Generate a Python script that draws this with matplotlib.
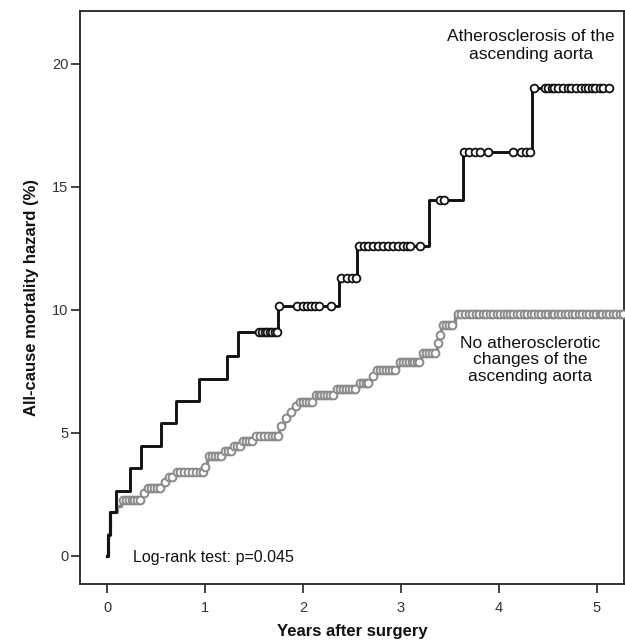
import numpy as np
import matplotlib
matplotlib.use("Agg")
import matplotlib.pyplot as plt

plt.rcParams['font.family'] = ['Liberation Sans', 'DejaVu Sans']

# ---- Data ----
# Atherosclerosis of the ascending aorta: event times (years) and cumulative hazard (%)
ath_times = [0.0, 0.005, 0.03, 0.09, 0.23, 0.345, 0.555, 0.70, 0.943, 1.223, 1.334, 1.747, 2.37, 2.555, 3.29, 3.64, 4.34]
ath_values = [0.0, 0.87, 1.78, 2.66, 3.56, 4.46, 5.39, 6.31, 7.2, 8.14, 9.1, 10.15, 11.31, 12.6, 14.47, 16.43, 19.01]
ath_censored = [1.55, 1.58, 1.61, 1.63, 1.66, 1.69, 1.72, 1.74,
                1.76, 1.94, 2.0, 2.04, 2.08, 2.12, 2.16, 2.29,
                2.39, 2.45, 2.50, 2.545,
                2.57, 2.62, 2.67, 2.72, 2.77, 2.82, 2.87, 2.92, 2.97, 3.02, 3.06, 3.09, 3.20,
                3.40, 3.44,
                3.645, 3.70, 3.76, 3.81, 3.89, 4.15, 4.23, 4.28, 4.32,
                4.36, 4.47, 4.50, 4.54, 4.57, 4.61, 4.66, 4.71, 4.74, 4.79, 4.84, 4.88,
                4.91, 4.95, 4.98, 5.03, 5.07, 5.13]

# No atherosclerotic changes of the ascending aorta
no_times = [0.0, 0.005, 0.03, 0.10, 0.14, 0.36, 0.40, 0.57, 0.61, 0.69, 0.99, 1.02, 1.19, 1.28, 1.37,
            1.50, 1.76, 1.81, 1.86, 1.91, 1.95, 2.11, 2.33, 2.56, 2.70, 2.74, 2.97, 3.21, 3.37,
            3.39, 3.41, 3.55]
no_values = [0.0, 0.9, 1.8, 2.05, 2.28, 2.54, 2.76, 3.0, 3.22, 3.43, 3.63, 4.05, 4.25, 4.48, 4.68,
             4.88, 5.3, 5.6, 5.87, 6.1, 6.27, 6.54, 6.78, 7.02, 7.3, 7.56, 7.87, 8.24, 8.65,
             8.98, 9.39, 9.84]
no_censored = [0.16, 0.19, 0.22, 0.25, 0.28, 0.31, 0.34, 0.38,
               0.42, 0.45, 0.48, 0.51, 0.54, 0.59, 0.63, 0.66,
               0.71, 0.75, 0.79, 0.83, 0.87, 0.91, 0.95, 0.98, 1.00,
               1.04, 1.07, 1.10, 1.13, 1.16, 1.21, 1.24, 1.27, 1.30, 1.33, 1.36,
               1.39, 1.42, 1.45, 1.48, 1.52, 1.56, 1.60, 1.64, 1.68, 1.72, 1.75,
               1.78, 1.83, 1.88, 1.93, 1.97, 2.00, 2.03, 2.06, 2.09,
               2.13, 2.16, 2.19, 2.22, 2.25, 2.28, 2.31,
               2.35, 2.38, 2.41, 2.44, 2.47, 2.50, 2.53,
               2.58, 2.61, 2.64, 2.67, 2.72,
               2.76, 2.79, 2.82, 2.85, 2.88, 2.91, 2.94,
               2.99, 3.02, 3.05, 3.08, 3.11, 3.14, 3.17, 3.19,
               3.23, 3.26, 3.29, 3.32, 3.35, 3.38, 3.40,
               3.43, 3.46, 3.49, 3.52,
               3.58, 3.62, 3.66, 3.70, 3.73, 3.77, 3.80, 3.84, 3.87, 3.91, 3.94, 3.98,
               4.01, 4.05, 4.08, 4.12, 4.15, 4.19, 4.22, 4.26, 4.29, 4.33, 4.36, 4.40,
               4.43, 4.47, 4.50, 4.54, 4.57, 4.61, 4.64, 4.68, 4.71, 4.75, 4.78, 4.82,
               4.85, 4.89, 4.92, 4.96, 4.99, 5.03, 5.06, 5.10, 5.13, 5.17, 5.20, 5.24, 5.27]

ath_end = 5.13
no_end = 5.30

xticks = [0, 1, 2, 3, 4, 5]
yticks = [0, 5, 10, 15, 20]


def step_value(times, values, t):
    idx = np.searchsorted(np.asarray(times), np.asarray(t), side='right') - 1
    return np.asarray(values)[idx]


fig = plt.figure(figsize=(6.25, 6.41), dpi=100)
ax = fig.add_axes([0.128, 0.0889, 0.8704, 0.8939])

gray = '#8a8a8a'

# No atherosclerotic changes (gray)
ax.step(list(no_times) + [no_end], list(no_values) + [no_values[-1]], where='post',
        color=gray, lw=2.4, zorder=2)
ax.plot(no_censored, step_value(no_times, no_values, no_censored), linestyle='none',
        marker='o', ms=5.6, mfc='white', mec=gray, mew=1.4, zorder=3)

# Atherosclerosis (black)
ax.step(list(ath_times) + [ath_end], list(ath_values) + [ath_values[-1]], where='post',
        color='#111111', lw=2.1, zorder=4)
ax.plot(ath_censored, step_value(ath_times, ath_values, ath_censored), linestyle='none',
        marker='o', ms=5.6, mfc='white', mec='#111111', mew=1.3, zorder=5)

ax.set_xlim(-0.276, 5.28)
ax.set_ylim(-1.14, 22.15)
ax.set_xticks(xticks)
ax.set_yticks(yticks)
ax.tick_params(axis='both', direction='out', length=6.5, width=1.2, colors='#222222',
               labelsize=10.5, labelcolor='#333333')
ax.tick_params(axis='x', pad=6)
ax.tick_params(axis='y', pad=2)
for s in ax.spines.values():
    s.set_linewidth(1.3)
    s.set_color('#222222')

ax.set_xlabel('Years after surgery', fontsize=12, fontweight='bold', labelpad=6, color='#111111')
ax.set_ylabel('All-cause mortality hazard (%)', fontsize=12, fontweight='bold', labelpad=9,
              color='#111111')

ax.text(4.33, 20.75, 'Atherosclerosis of the\nascending aorta', ha='center', va='center',
        fontsize=12.5, linespacing=1.2, color='#111111')
ax.text(4.32, 7.97, 'No atherosclerotic\nchanges of the\nascending aorta', ha='center',
        va='center', fontsize=12.5, linespacing=1.12, color='#111111')
ax.text(0.265, -0.05, 'Log-rank test: p=0.045', ha='left', va='center', fontsize=11.5,
        color='#111111')

fig.savefig('out.png', dpi=100)
